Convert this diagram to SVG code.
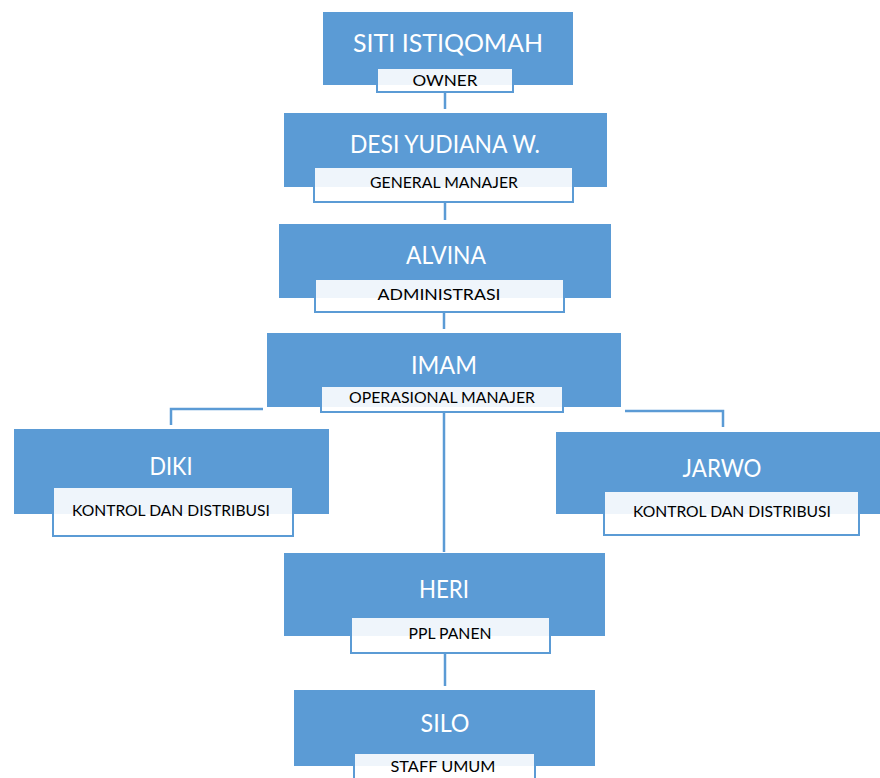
<svg xmlns="http://www.w3.org/2000/svg" width="880" height="778" viewBox="0 0 880 778">
<style>
.box{fill:#5B9BD5}
.lab{fill:#FFFFFF;fill-opacity:0.9;stroke:#5B9BD5;stroke-width:2}
.name{font-family:Lato,"Liberation Sans",sans-serif;font-size:25px;fill:#FFFFFF;text-anchor:middle}
.role{font-family:Lato,"Liberation Sans",sans-serif;font-size:15.5px;fill:#000000;text-anchor:middle}
.con{stroke:#5B9BD5;stroke-width:2.5;fill:none}
</style>
<rect width="880" height="778" fill="#FFFFFF"/>
<g id="connectors">
<line class="con" x1="445" y1="92" x2="445" y2="109"/>
<line class="con" x1="445" y1="202" x2="445" y2="220"/>
<line class="con" x1="444" y1="312" x2="444" y2="329"/>
<polyline class="con" points="263,409 171,409 171,425"/>
<polyline class="con" points="625,411 723,411 723,427"/>
<line class="con" x1="444" y1="413" x2="444" y2="552"/>
<line class="con" x1="445" y1="653" x2="445" y2="686"/>
</g>
<g id="siti">
<rect class="box" x="323" y="12" width="250" height="73"/>
<rect class="lab" x="377" y="68" width="136" height="24"/>
<text class="name" x="448" y="52" textLength="190" lengthAdjust="spacingAndGlyphs">SITI ISTIQOMAH</text>
<text class="role" x="445" y="86" textLength="65" lengthAdjust="spacingAndGlyphs">OWNER</text>
</g>
<g id="desi">
<rect class="box" x="284" y="113" width="323" height="74"/>
<rect class="lab" x="314" y="167" width="259" height="35"/>
<text class="name" x="445" y="153" textLength="190" lengthAdjust="spacingAndGlyphs">DESI YUDIANA W.</text>
<text class="role" x="444" y="188" textLength="148" lengthAdjust="spacingAndGlyphs">GENERAL MANAJER</text>
</g>
<g id="alvina">
<rect class="box" x="279" y="224" width="332" height="74"/>
<rect class="lab" x="315" y="279" width="249" height="33"/>
<text class="name" x="446" y="264" textLength="80" lengthAdjust="spacingAndGlyphs">ALVINA</text>
<text class="role" x="439" y="300" textLength="123" lengthAdjust="spacingAndGlyphs">ADMINISTRASI</text>
</g>
<g id="imam">
<rect class="box" x="267" y="333" width="354" height="74"/>
<rect class="lab" x="321" y="386" width="242" height="26"/>
<text class="name" x="444" y="374" textLength="66" lengthAdjust="spacingAndGlyphs">IMAM</text>
<text class="role" x="442" y="403" textLength="186" lengthAdjust="spacingAndGlyphs">OPERASIONAL MANAJER</text>
</g>
<g id="diki">
<rect class="box" x="14" y="429" width="315" height="85"/>
<rect class="lab" x="53" y="487" width="240" height="49"/>
<text class="name" x="171" y="475" textLength="43" lengthAdjust="spacingAndGlyphs">DIKI</text>
<text class="role" x="171" y="516" textLength="198" lengthAdjust="spacingAndGlyphs">KONTROL DAN DISTRIBUSI</text>
</g>
<g id="jarwo">
<rect class="box" x="556" y="432" width="330" height="82"/>
<rect class="lab" x="604" y="491" width="255" height="44"/>
<text class="name" x="722" y="477" textLength="79" lengthAdjust="spacingAndGlyphs">JARWO</text>
<text class="role" x="732" y="517" textLength="198" lengthAdjust="spacingAndGlyphs">KONTROL DAN DISTRIBUSI</text>
</g>
<g id="heri">
<rect class="box" x="284" y="553" width="321" height="83"/>
<rect class="lab" x="351" y="617" width="199" height="36"/>
<text class="name" x="444" y="598" textLength="50" lengthAdjust="spacingAndGlyphs">HERI</text>
<text class="role" x="450" y="639" textLength="83" lengthAdjust="spacingAndGlyphs">PPL PANEN</text>
</g>
<g id="silo">
<rect class="box" x="294" y="690" width="301" height="76"/>
<rect class="lab" x="354" y="753" width="181" height="40"/>
<text class="name" x="445" y="732" textLength="49" lengthAdjust="spacingAndGlyphs">SILO</text>
<text class="role" x="443" y="772" textLength="105" lengthAdjust="spacingAndGlyphs">STAFF UMUM</text>
</g>
</svg>
